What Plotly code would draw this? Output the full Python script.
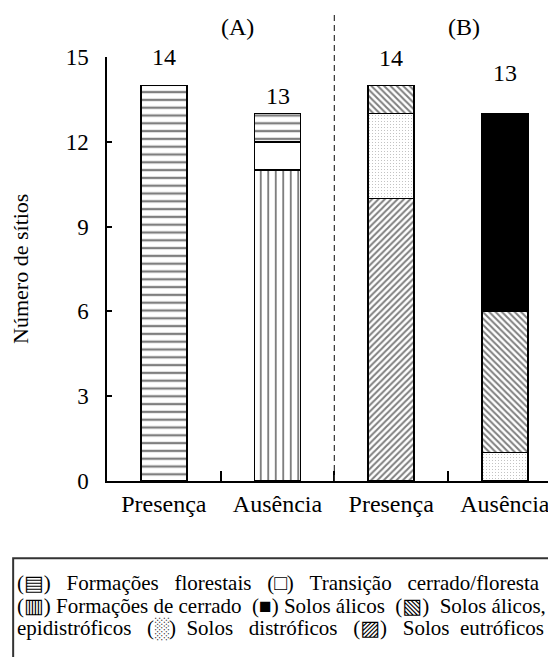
import plotly.graph_objects as go

categories = ["Presença", "Ausência", "Presença", "Ausência"]
panels = ["(A)", "(B)"]

# series values per bar (None = not present), stacked bottom to top
cerrado = [None, 11, None, None]
transicao = [None, 1, None, None]
florestais = [14, 1, None, None]
eutroficos = [None, None, 10, None]
distroficos = [None, None, 3, 1]
epidistroficos = [None, None, 1, 5]
alicos = [None, None, None, 7]
totals = [14, 13, 14, 13]

y_ticks = [0, 3, 6, 9, 12, 15]

# legend text, words per line with the number of extra spaces after each word
legend_words = [
    [("(▤)", 2), ("Formações", 2), ("florestais", 2), ("(□)", 2), ("Transição", 2), ("cerrado/floresta", 0)],
    [("(▥)", 0), ("Formações", 0), ("de", 0), ("cerrado", 1), ("(■)", 0), ("Solos", 0),
     ("álicos", 1), ("(▧)", 1), ("Solos", 0), ("álicos,", 0)],
    [("epidistróficos", 2), ("(░)", 1), ("Solos", 2), ("distróficos", 2), ("(▨)", 2), ("Solos", 1),
     ("eutróficos", 0)],
]

FONT = "Times New Roman, Liberation Serif, DejaVu Serif, serif"
NBSP = "\u00a0"
x = list(range(len(categories)))

series = [
    (cerrado, dict(bgcolor="white", fgcolor="black", shape="|", size=7.5, solidity=0.25), "white"),
    (transicao, None, "white"),
    (florestais, dict(bgcolor="white", fgcolor="black", shape="-", size=7.8, solidity=0.3), "white"),
    (eutroficos, dict(bgcolor="white", fgcolor="black", shape="/", size=4.5, solidity=0.45), "white"),
    (distroficos, dict(bgcolor="white", fgcolor="#666", shape=".", size=3, solidity=0.1), "white"),
    (epidistroficos, dict(bgcolor="white", fgcolor="black", shape="\\", size=4.5, solidity=0.45), "white"),
    (alicos, None, "black"),
]

fig = go.Figure()
for vals, pat, col in series:
    marker = dict(color=col, line=dict(color="black", width=1.5))
    if pat:
        marker["pattern"] = pat
    fig.add_trace(go.Bar(x=x, y=vals, width=0.405, marker=marker, showlegend=False))

# invisible trace for the between-category tick axis
fig.add_trace(go.Scatter(x=[], y=[], xaxis="x2", showlegend=False))

label_shift = [28, 18, 27, 41]
for xi, t, s in zip(x, totals, label_shift):
    fig.add_annotation(x=xi, y=t, text=str(t), showarrow=False, yshift=s,
                       xanchor="center", yanchor="middle",
                       font=dict(family=FONT, size=24, color="black"))

for px, txt in zip([0.65, 2.64], panels):
    fig.add_annotation(x=px, y=1.071, yref="paper", text=txt, showarrow=False,
                       xanchor="center", yanchor="middle",
                       font=dict(family=FONT, size=24, color="black"))

fig.add_annotation(x=-0.194, y=0.5, xref="paper", yref="paper", text="Número de sítios",
                   textangle=-90, showarrow=False, xanchor="center", yanchor="middle",
                   font=dict(family=FONT, size=22, color="black"))

# separator between panels
fig.add_shape(type="line", x0=1.5, x1=1.5, y0=0, y1=1.104, xref="x", yref="paper",
              line=dict(color="#333", width=1.2, dash="6px,4px"))

# legend box
fig.add_shape(type="rect", x0=-0.209, x1=1.2, y0=-0.182, y1=-0.6, xref="paper", yref="paper",
              line=dict(color="#333", width=2), fillcolor="rgba(0,0,0,0)")
for ly, words in zip([-0.2406, -0.2948, -0.3467], legend_words):
    line = "".join(w + NBSP * (1 + n) for w, n in words).rstrip(NBSP)
    fig.add_annotation(x=-0.205, y=ly, xref="paper", yref="paper", text=line, showarrow=False,
                       xanchor="left", yanchor="middle",
                       font=dict(family=FONT, size=21, color="black"))

fig.update_layout(
    width=548, height=649,
    margin=dict(l=99, r=0, t=49, b=176),
    paper_bgcolor="white", plot_bgcolor="white",
    barmode="stack",
    font=dict(family=FONT, color="black"),
    xaxis=dict(range=[-0.5, 3.45], tickvals=x, ticktext=categories, ticks="",
               showline=True, linecolor="black", linewidth=1.5, showgrid=False, zeroline=False,
               tickfont=dict(family=FONT, size=24, color="black")),
    xaxis2=dict(range=[-0.5, 3.45], overlaying="x", anchor="y", side="bottom",
                tickvals=[0.5, 1.5, 2.5], ticks="inside", ticklen=10, tickwidth=1.5, tickcolor="black",
                showticklabels=False, showgrid=False, zeroline=False, showline=False),
    yaxis=dict(range=[0, 15], tickvals=y_ticks, ticks="inside", ticklen=5, tickwidth=1.5,
               tickcolor="black", showline=True, linecolor="black", linewidth=1.5,
               showgrid=False, zeroline=False, ticklabelstandoff=12,
               tickfont=dict(family=FONT, size=23, color="black")),
)

fig.write_html("out.html")
